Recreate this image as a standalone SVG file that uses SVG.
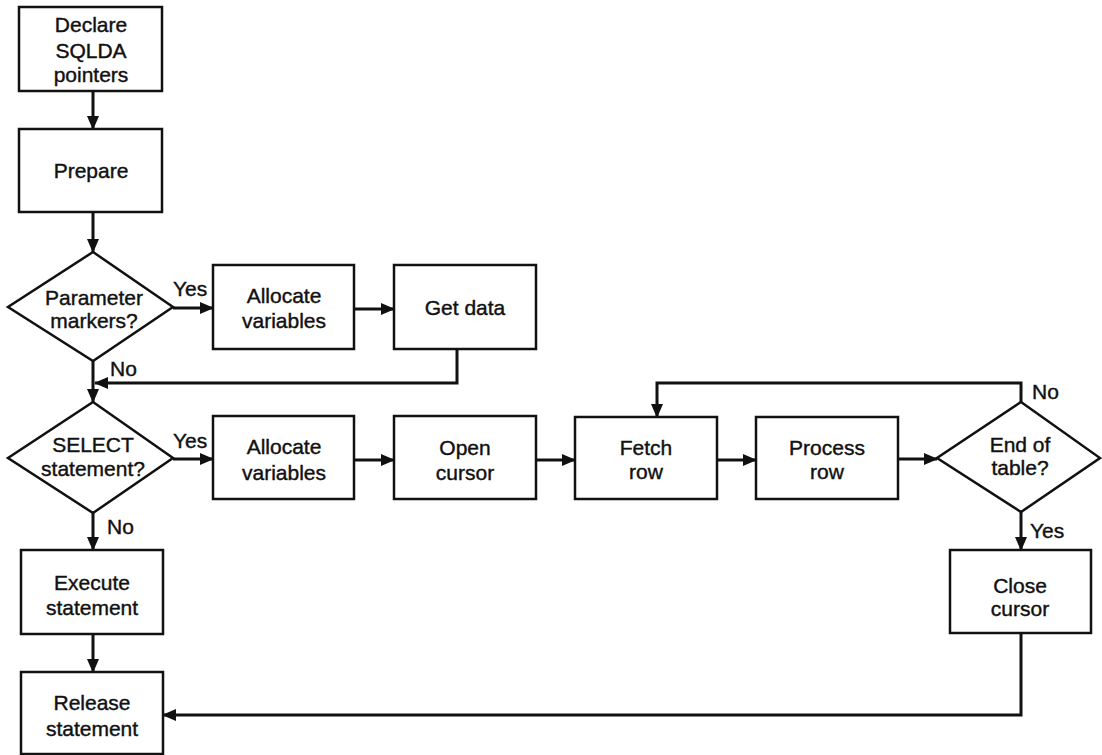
<svg xmlns="http://www.w3.org/2000/svg" width="1102" height="755" viewBox="0 0 1102 755">
<style>
.box{fill:#fff;stroke:#111;stroke-width:2.5}
.t{font-family:"Liberation Sans",Arial,sans-serif;font-size:21px;fill:#111;stroke:#111;stroke-width:0.4;text-anchor:middle}
.l{font-family:"Liberation Sans",Arial,sans-serif;font-size:21px;fill:#111;stroke:#111;stroke-width:0.4}
.c{fill:none;stroke:#111;stroke-width:3}
</style>
<defs>
<marker id="ah" markerUnits="userSpaceOnUse" markerWidth="14" markerHeight="14" viewBox="0 0 14 14" refX="13" refY="7" orient="auto">
<path d="M0,1 L14,7 L0,13 Z" fill="#111"/>
</marker>
</defs>
<rect width="1102" height="755" fill="#fff"/>
<g id="connectors">
<path class="c" d="M93,91 V129" marker-end="url(#ah)"/>
<path class="c" d="M93,212 V252" marker-end="url(#ah)"/>
<path class="c" d="M173,308 H213" marker-end="url(#ah)"/>
<path class="c" d="M354,309 H394" marker-end="url(#ah)"/>
<path class="c" d="M457,349 V383 H95" marker-end="url(#ah)"/>
<path class="c" d="M93,361 V402" marker-end="url(#ah)"/>
<path class="c" d="M173,459 H213" marker-end="url(#ah)"/>
<path class="c" d="M354,460 H394" marker-end="url(#ah)"/>
<path class="c" d="M536,460 H575" marker-end="url(#ah)"/>
<path class="c" d="M717,460 H756" marker-end="url(#ah)"/>
<path class="c" d="M898,459 H937" marker-end="url(#ah)"/>
<path class="c" d="M1021,402 V383 H657 V417" marker-end="url(#ah)"/>
<path class="c" d="M1021,512 V550" marker-end="url(#ah)"/>
<path class="c" d="M93,513 V550" marker-end="url(#ah)"/>
<path class="c" d="M93,634 V672" marker-end="url(#ah)"/>
<path class="c" d="M1021,633 V715 H163" marker-end="url(#ah)"/>
<text class="l" x="173" y="296">Yes</text>
<text class="l" x="110" y="376">No</text>
<text class="l" x="173" y="448">Yes</text>
<text class="l" x="107" y="534">No</text>
<text class="l" x="1032" y="399">No</text>
<text class="l" x="1030" y="538">Yes</text>
</g>
<g id="declare">
<rect class="box" x="19" y="7" width="143" height="84"/>
<text class="t" x="91" y="32">Declare</text>
<text class="t" x="91" y="58">SQLDA</text>
<text class="t" x="91" y="82">pointers</text>
</g>
<g id="prepare">
<rect class="box" x="19" y="129" width="143" height="83"/>
<text class="t" x="91" y="178">Prepare</text>
</g>
<g id="param">
<polygon class="box" points="93,252 173,307 93,361 8,307"/>
<text class="t" x="94" y="305">Parameter</text>
<text class="t" x="94" y="328">markers?</text>
</g>
<g id="alloc1">
<rect class="box" x="213" y="265" width="141" height="84"/>
<text class="t" x="284" y="303">Allocate</text>
<text class="t" x="284" y="328">variables</text>
</g>
<g id="getdata">
<rect class="box" x="394" y="265" width="142" height="84"/>
<text class="t" x="465" y="315">Get data</text>
</g>
<g id="select">
<polygon class="box" points="93,402 173,458 93,513 8,458"/>
<text class="t" x="93" y="452">SELECT</text>
<text class="t" x="93" y="476">statement?</text>
</g>
<g id="alloc2">
<rect class="box" x="213" y="416" width="141" height="83"/>
<text class="t" x="284" y="454">Allocate</text>
<text class="t" x="284" y="480">variables</text>
</g>
<g id="open">
<rect class="box" x="394" y="416" width="142" height="83"/>
<text class="t" x="465" y="455">Open</text>
<text class="t" x="465" y="480">cursor</text>
</g>
<g id="fetch">
<rect class="box" x="575" y="417" width="142" height="82"/>
<text class="t" x="646" y="455">Fetch</text>
<text class="t" x="646" y="479">row</text>
</g>
<g id="process">
<rect class="box" x="756" y="417" width="142" height="82"/>
<text class="t" x="827" y="455">Process</text>
<text class="t" x="827" y="479">row</text>
</g>
<g id="endtable">
<polygon class="box" points="1021,402 1100,458 1021,512 937,458"/>
<text class="t" x="1020" y="452">End of</text>
<text class="t" x="1020" y="475">table?</text>
</g>
<g id="close">
<rect class="box" x="950" y="550" width="141" height="83"/>
<text class="t" x="1020" y="593">Close</text>
<text class="t" x="1020" y="616">cursor</text>
</g>
<g id="execute">
<rect class="box" x="21" y="550" width="142" height="84"/>
<text class="t" x="92" y="590">Execute</text>
<text class="t" x="92" y="615">statement</text>
</g>
<g id="release">
<rect class="box" x="21" y="672" width="142" height="82"/>
<text class="t" x="92" y="710">Release</text>
<text class="t" x="92" y="736">statement</text>
</g>
</svg>
